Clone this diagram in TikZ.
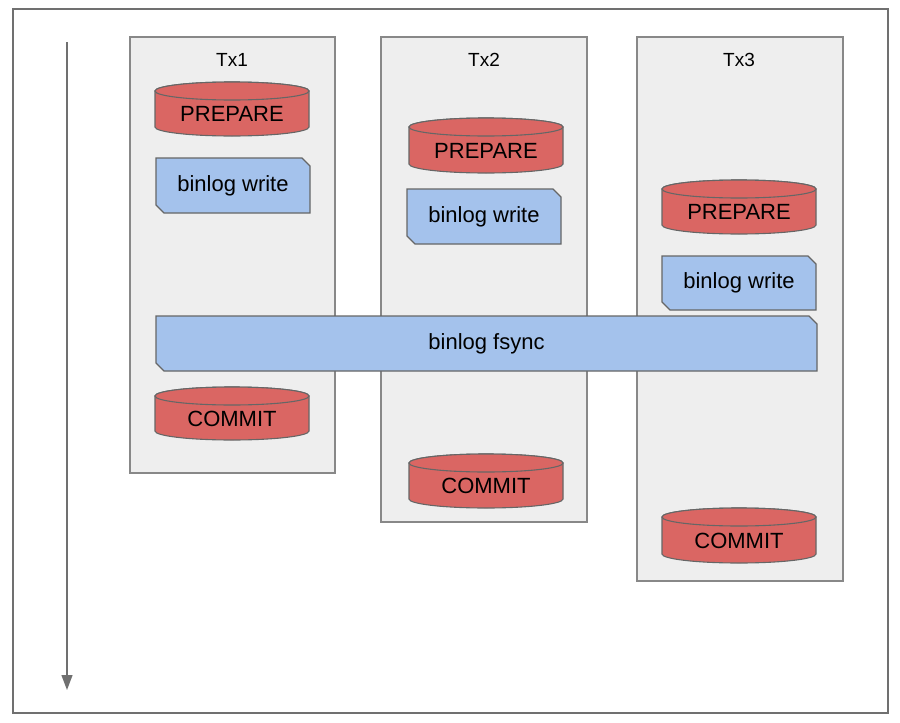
\documentclass[tikz,border=0pt]{standalone}
\usepackage{fontspec}
\setmainfont{Liberation Sans}
\usetikzlibrary{arrows.meta}
\definecolor{framegray}{HTML}{707070}
\definecolor{boxgray}{HTML}{EEEEEE}
\definecolor{boxline}{HTML}{888888}
\definecolor{dbred}{HTML}{DA6663}
\definecolor{logblue}{HTML}{A4C2EC}
\definecolor{shapeline}{HTML}{666666}
\tikzset{
  txbox/.style={draw=boxline, fill=boxgray, line width=1.2pt},
  dbshape/.style={draw=shapeline, fill=dbred, line width=1.1pt},
  logshape/.style={draw=shapeline, fill=logblue, line width=1.1pt},
  lbl/.style={font=\fontsize{22}{24}\selectfont, inner sep=0pt},
  txlbl/.style={font=\fontsize{19}{21}\selectfont, inner sep=0pt},
}
% cylinder: x1, ytop, x2, ybottom, name, text
\newcommand\dbcyl[6]{%
  \pgfmathsetmacro\rx{(#3-#1)/2}%
  \pgfmathsetmacro\cx{(#1+#3)/2}%
  \pgfmathsetmacro\ya{#2+9}%
  \pgfmathsetmacro\yb{#4-9}%
  \path[dbshape] (#1,\ya) -- (#1,\yb) arc[start angle=180, end angle=0, x radius=\rx, y radius=9]
     -- (#3,\ya) arc[start angle=0, end angle=-180, x radius=\rx, y radius=9] -- cycle;
  \draw[dbshape] (\cx,\ya) ellipse[x radius=\rx, y radius=9];
  \node[lbl] (#5) at (\cx,{(\ya+\yb)/2+5}) {#6};
}
% cut-corner box: x1, y1, x2, y2, name, text
\newcommand\logbox[6]{%
  \path[logshape] (#1,#2) -- (#3-8,#2) -- (#3,#2+8) -- (#3,#4) -- (#1+8,#4) -- (#1,#4-8) -- cycle;
  \node[lbl] (#5) at ({(#1+#3)/2},{(#2+#4)/2}) {#6};
}
\begin{document}
\begin{tikzpicture}[x=1pt, y=-1pt]
\useasboundingbox (0,0) rectangle (900,723);
% outer frame
\draw[framegray, line width=1.3pt] (13,9) rectangle (888,713);
% time arrow
\coordinate (tstart) at (67,42);
\coordinate (tend) at (67,690);
\draw[framegray, line width=1.3pt, -{Triangle[width=11pt,length=15pt]}] (tstart) -- (tend);
% transaction boxes
\draw[txbox] (130,37) rectangle (335,473);
\draw[txbox] (381,37) rectangle (587,522);
\draw[txbox] (637,37) rectangle (843,581);
\node[txlbl] (tx1) at (232,60) {Tx1};
\node[txlbl] (tx2) at (484,60) {Tx2};
\node[txlbl] (tx3) at (739,60) {Tx3};
% Tx1
\dbcyl{155}{82}{309}{136}{prep1}{PREPARE}
\logbox{156}{158}{310}{213}{write1}{binlog write}
% Tx2
\dbcyl{409}{118}{563}{173}{prep2}{PREPARE}
\logbox{407}{189}{561}{244}{write2}{binlog write}
% Tx3
\dbcyl{662}{180}{816}{234}{prep3}{PREPARE}
\logbox{662}{256}{816}{310}{write3}{binlog write}
% fsync
\logbox{156}{316}{817}{371}{fsync}{binlog fsync}
% commits
\dbcyl{155}{387}{309}{440}{commit1}{COMMIT}
\dbcyl{409}{454}{563}{508}{commit2}{COMMIT}
\dbcyl{662}{508}{816}{563}{commit3}{COMMIT}
\end{tikzpicture}
\end{document}
